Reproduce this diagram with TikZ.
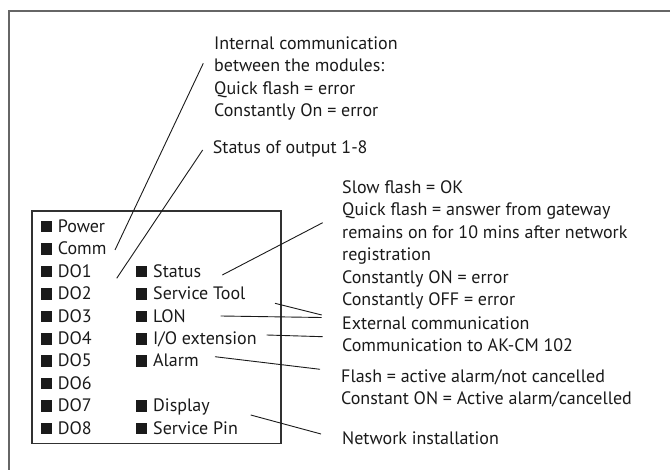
\documentclass[tikz,border=0pt]{standalone}
\usepackage{fontspec}
\setmainfont{PT Sans}
\usepackage{tikz}
\usetikzlibrary{positioning}
\definecolor{frame}{HTML}{666666}
\definecolor{ink}{HTML}{1A1A1A}
\newcommand{\led}{\rule{11pt}{11.5pt}\hspace{6pt}}

\begin{document}
\begin{tikzpicture}[x=1pt,y=-1pt,
  txt/.style={anchor=base west,inner sep=0pt,text=ink,font=\fontsize{18}{22.45}\selectfont},
  note/.style={txt,align=left},
  lead/.style={line width=0.9pt,ink}]
\useasboundingbox (0,0) rectangle (670,470);
% outer frame (cut off at right and bottom)
\draw[line width=1.8pt,frame] (9.3,470) -- (9.3,10.8) -- (670,10.8);
% module front
\draw[line width=1.4pt,ink!90] (32,211) rectangle (281,443.5);
% left column
\node[txt] (power) at (40.7,232.3) {\led Power};
\node[txt] (comm) at (40.7,254.8) {\led Comm};
\node[txt] (do1) at (40.7,277.2) {\led DO1};
\node[txt] (do2) at (40.7,299.7) {\led DO2};
\node[txt] (do3) at (40.7,322.1) {\led DO3};
\node[txt] (do4) at (40.7,344.6) {\led DO4};
\node[txt] (do5) at (40.7,367.0) {\led DO5};
\node[txt] (do6) at (40.7,389.5) {\led DO6};
\node[txt] (do7) at (40.7,411.9) {\led DO7};
\node[txt] (do8) at (40.7,434.4) {\led DO8};
% right column
\node[txt] (status) at (136,277.2) {\led Status};
\node[txt] (svctool) at (136,299.7) {\led Service Tool};
\node[txt] (lon) at (136,322.1) {\led LON};
\node[txt] (ioext) at (136,344.6) {\led I/O extension};
\node[txt] (alarm) at (136,367.0) {\led Alarm};
\node[txt] (display) at (136,411.9) {\led Display};
\node[txt] (svcpin) at (136,434.4) {\led Service Pin};
% explanations (base = last line)
\node[note] (intcomm) at (214,116.9) {Internal communication\\between the modules:\\Quick flash = error\\Constantly On = error};
\node[txt] (outstat) at (212.7,154) {Status of output 1-8};
\node[note] (netstat) at (342,305.6) {Slow flash = OK\\Quick flash = answer from gateway\\remains on for 10 mins after network\\registration\\Constantly ON = error\\Constantly OFF = error};
\node[txt] (extcomm) at (342,329.5) {External communication};
\node[txt] (akcm) at (342,351.8) {Communication to AK-CM 102};
\node[note] (alarmtxt) at (341,404.8) {Flash = active alarm/not cancelled\\Constant ON = Active alarm/cancelled};
\node[txt] (netinst) at (342,445) {Network installation};
% leader ends
\coordinate (commL) at (115,250);
\coordinate (intcommL) at (203.3,63.3);
\coordinate (do1L) at (116.7,278.3);
\coordinate (outstatL) at (202.7,150);
\coordinate (statusL) at (222.3,275);
\coordinate (netstatL) at (322.7,222.7);
\coordinate (svctoolL) at (275,303.3);
\coordinate (lonL) at (220.7,316);
\coordinate (extcommL) at (321.7,317.5);
\coordinate (extcommL2) at (321.7,315);
\coordinate (ioextL) at (266.7,335);
\coordinate (akcmL) at (322.7,336.7);
\coordinate (alarmL) at (215,356.7);
\coordinate (alarmtxtL) at (320,369.3);
\coordinate (svcpinL) at (250.7,415);
\coordinate (netinstL) at (321,434);
\draw[lead] (commL) -- (intcommL);
\draw[lead] (do1L) -- (outstatL);
\draw[lead] (statusL) -- (netstatL);
\draw[lead] (svctoolL) -- (extcommL2);
\draw[lead] (lonL) -- (extcommL);
\draw[lead] (ioextL) -- (akcmL);
\draw[lead] (alarmL) -- (alarmtxtL);
\draw[lead] (svcpinL) -- (netinstL);
\end{tikzpicture}
\end{document}
